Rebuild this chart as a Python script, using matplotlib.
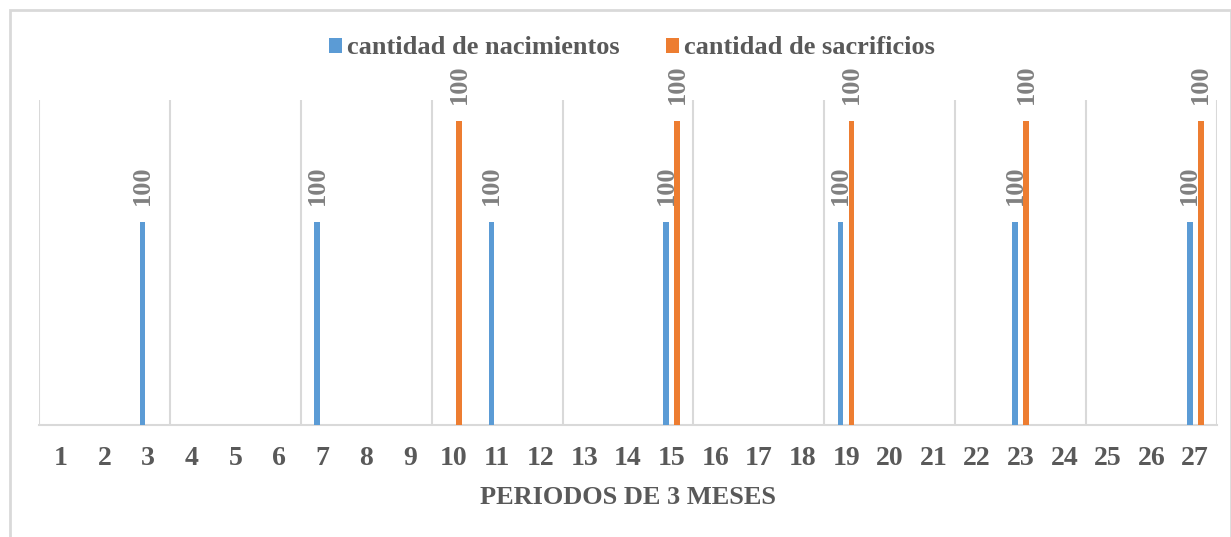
import matplotlib
matplotlib.use("Agg")
import matplotlib.pyplot as plt
from matplotlib.patches import Patch, Rectangle
import numpy as np

categories = [str(i) for i in range(1, 28)]
nacimientos = [0, 0, 100, 0, 0, 0, 100, 0, 0, 0, 100, 0, 0, 0, 100, 0, 0, 0, 100, 0, 0, 0, 100, 0, 0, 0, 100]
sacrificios = [0, 0, 0, 0, 0, 0, 0, 0, 0, 100, 0, 0, 0, 0, 100, 0, 0, 0, 100, 0, 0, 0, 100, 0, 0, 0, 100]
series_names = ["cantidad de nacimientos", "cantidad de sacrificios"]
x_title = "PERIODOS DE 3 MESES"

BLUE = "#5B9BD5"
ORANGE = "#ED7D31"
TXT = "#595959"
LBL = "#808080"
GRID = "#D9D9D9"
FONT = "Liberation Serif"

W, H = 1231, 537
fig = plt.figure(figsize=(W / 100, H / 100), dpi=100)
fig.patch.set_facecolor("white")

left, right, bottom, top = 39, 1217, 425, 100
ax = fig.add_axes([left / W, 1 - bottom / H, (right - left) / W, (bottom - top) / H])
ax2 = ax.twinx()

x = np.arange(1, len(categories) + 1)
bw = 0.13
off = 0.126

b1 = ax.bar(x - off, nacimientos, width=bw, color=BLUE, zorder=3)
b2 = ax2.bar(x + off, sacrificios, width=bw, color=ORANGE, zorder=3)

ax.set_ylim(0, 160)
ax2.set_ylim(0, 106.8)
ax.set_xlim(0.5, len(categories) + 0.5)

lab1 = [str(v) if v else "" for v in nacimientos]
lab2 = [str(v) if v else "" for v in sacrificios]
ax.bar_label(b1, labels=lab1, rotation=90, padding=12, fontsize=19,
             fontweight="bold", color=LBL, family=FONT)
ax2.bar_label(b2, labels=lab2, rotation=90, padding=12, fontsize=19,
              fontweight="bold", color=LBL, family=FONT, clip_on=False)

for a in (ax, ax2):
    for s in a.spines.values():
        s.set_visible(False)
    a.set_yticks([])
    a.tick_params(axis="y", length=0)
ax.patch.set_visible(False)

# vertical gridlines every 3 periods
ax.set_xticks(np.arange(0.5, len(categories) + 1, 3), minor=True)
ax.grid(which="minor", axis="x", color=GRID, linewidth=1.5, zorder=0)
ax.tick_params(axis="x", which="minor", length=0)
ax.spines["bottom"].set_visible(True)
ax.spines["bottom"].set_color(GRID)
ax.spines["bottom"].set_linewidth(1.5)

ax.set_xticks(x)
ax.set_xticklabels(categories, fontsize=20, fontweight="bold", color=TXT, family=FONT)
ax.tick_params(axis="x", which="major", length=0, pad=15)
ax.set_xlabel(x_title, fontsize=19, fontweight="bold", color=TXT, family=FONT, labelpad=11)

handles = [Patch(facecolor=BLUE), Patch(facecolor=ORANGE)]
fig.legend(handles, series_names, loc="center", bbox_to_anchor=(632 / W, 1 - 48 / H),
           ncol=2, frameon=False, prop={"family": FONT, "weight": "bold", "size": 19},
           labelcolor=TXT, handlelength=0.5, handleheight=0.5, handletextpad=0.2,
           columnspacing=1.75)

frame = Rectangle((10 / W, -0.1), (W - 10) / W, 1 - 10 / H + 0.1, transform=fig.transFigure,
                  fill=False, edgecolor=GRID, linewidth=2)
fig.add_artist(frame)

fig.savefig("out.png", dpi=100)
